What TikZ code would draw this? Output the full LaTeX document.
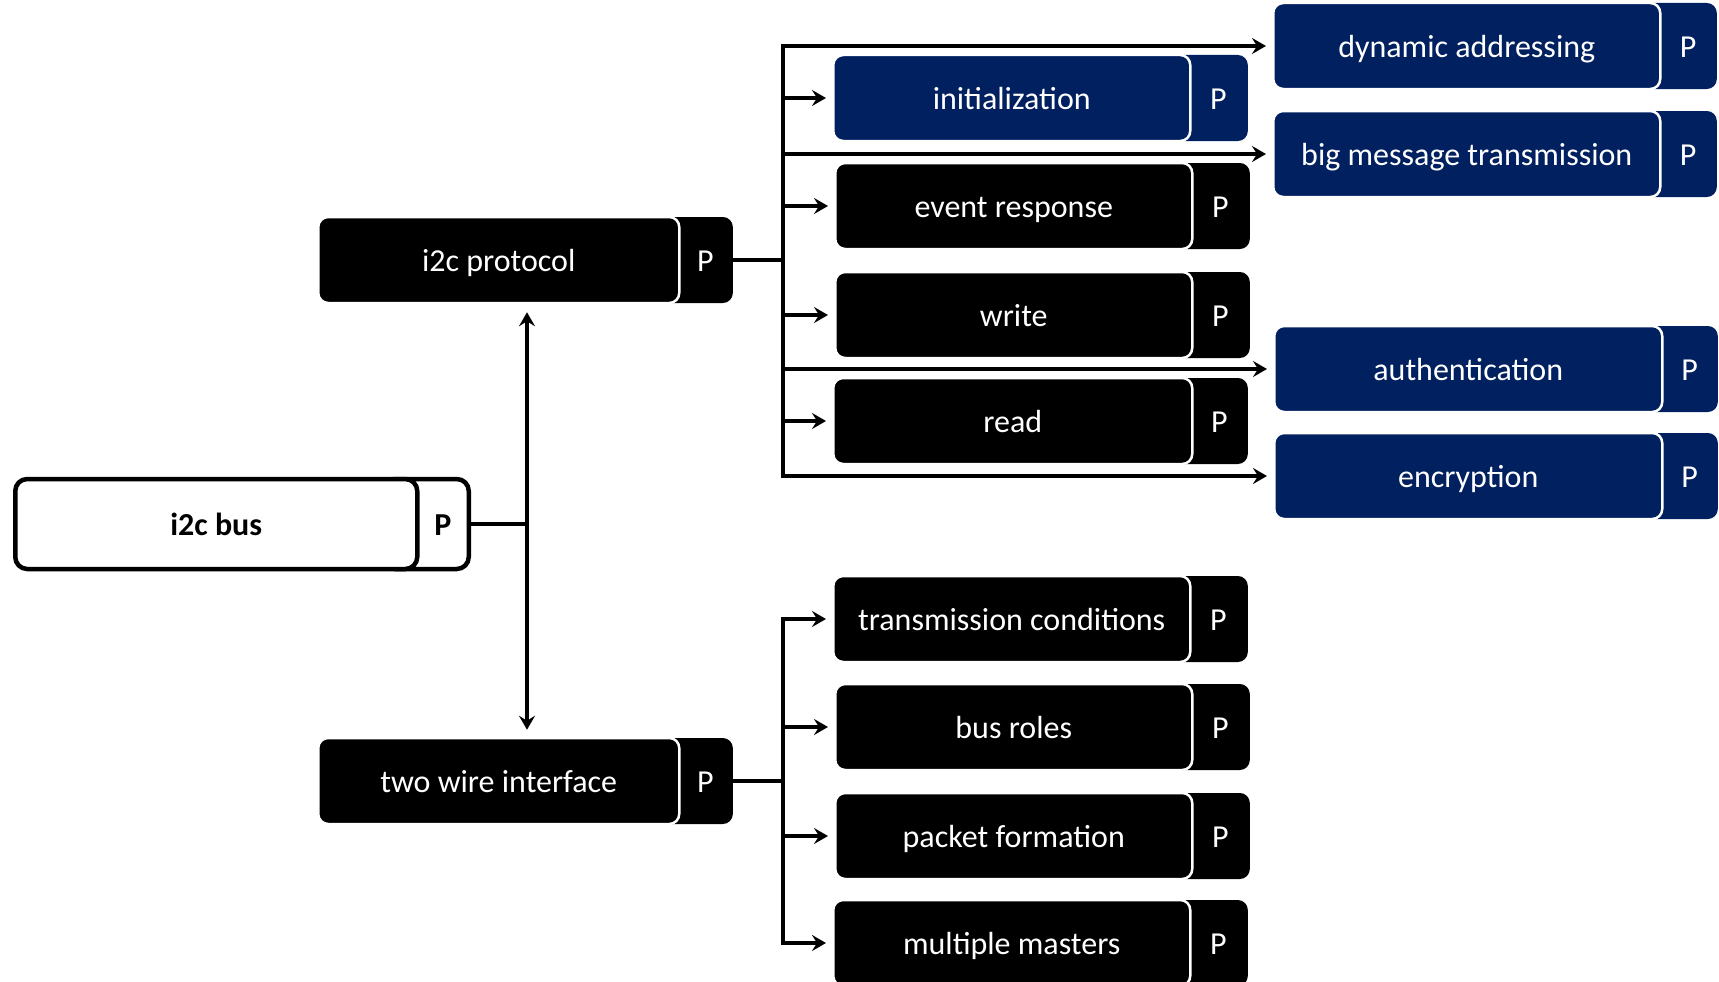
\documentclass[tikz,border=0pt]{standalone}
\usepackage{fontspec}
\setmainfont{Carlito}
\usetikzlibrary{arrows.meta}
\definecolor{navy}{RGB}{0,32,96}
\tikzset{
  lbl/.style={font=\fontsize{32}{36}\selectfont, text height=25pt, text depth=1.6pt},
  blackbg/.style={rectangle, rounded corners=10pt, fill=black, draw=none, inner sep=0pt},
  blackmain/.style={rectangle, rounded corners=10pt, fill=black, draw=white, line width=2.5pt, text=white, lbl, inner sep=0pt},
  blackptext/.style={text=white, lbl, inner sep=0pt},
  bluebg/.style={rectangle, rounded corners=10pt, fill=navy, draw=none, inner sep=0pt},
  bluemain/.style={rectangle, rounded corners=10pt, fill=navy, draw=white, line width=2.5pt, text=white, lbl, inner sep=0pt},
  blueptext/.style={text=white, lbl, inner sep=0pt},
  whitebg/.style={rectangle, rounded corners=12pt, fill=white, draw=black, line width=4.5pt, inner sep=0pt},
  whitemain/.style={rectangle, rounded corners=12pt, fill=white, draw=black, line width=4.5pt, text=black, lbl, font=\bfseries\fontsize{32}{36}\selectfont, inner sep=0pt},
  whiteptext/.style={text=black, lbl, font=\bfseries\fontsize{32}{36}\selectfont, inner sep=0pt},
  tip/.tip={Stealth[length=14pt,width=16pt,inset=5pt]},
  conn/.style={line width=3.8pt},
  arr/.style={line width=3.8pt, -tip, shorten >=6pt},
}
% name, y, left, mainright, pright, style, height, text
\newcommand\pbox[8]{%
  \node[#6bg, minimum width={#5-#4+30}, minimum height=#7, anchor=east] (#1bg) at (#5,#2) {};
  \node[#6main, minimum width={#4-#3}, minimum height=#7, anchor=west] (#1) at (#3,#2) {#8};
  \node[#6ptext] (#1p) at ({(#4+#5)/2},#2) {P};
}
\begin{document}
\begin{tikzpicture}[x=1pt,y=-1pt]
\useasboundingbox[fill=white] (0,0) rectangle (1719,982);

\pbox{bus}{524}{13}{415}{471}{white}{90}{i2c bus}
\pbox{proto}{260}{317}{678}{733}{black}{86}{i2c protocol}
\pbox{twi}{781}{317}{678}{733}{black}{86}{two wire interface}

\pbox{init}{98}{832}{1189}{1248}{blue}{86}{initialization}
\pbox{evt}{206}{834}{1191}{1250}{black}{86}{event response}
\pbox{wr}{315}{834}{1191}{1250}{black}{86}{write}
\pbox{rd}{421}{832}{1191}{1248}{black}{86}{read}

\pbox{tc}{619}{832}{1189}{1248}{black}{86}{transmission conditions}
\pbox{br}{727}{834}{1191}{1250}{black}{86}{bus roles}
\pbox{pf}{836}{834}{1191}{1250}{black}{86}{packet formation}
\pbox{mm}{943}{832}{1189}{1248}{black}{86}{multiple masters}

\pbox{dyn}{46}{1272}{1659}{1717}{blue}{86}{dynamic addressing}
\pbox{big}{154}{1272}{1659}{1717}{blue}{86}{big message transmission}
\pbox{auth}{369}{1273}{1661}{1718}{blue}{86}{authentication}
\pbox{enc}{476}{1273}{1661}{1718}{blue}{86}{encryption}

% bus to children
\coordinate (j0) at (527,524);
\draw[conn] (busbg.east) -- (j0);
\draw[line width=3.8pt, tip-tip, shorten <=8pt, shorten >=7pt] (proto.south -| j0) -- (twi.north -| j0);

% protocol tree
\coordinate (j1) at (783,260);
\draw[conn] (protobg.east) -- (j1);
\foreach \t in {dyn,init,big,evt,wr,auth,rd,enc}
  \draw[arr] (j1) |- (\t.west);

% two wire tree
\coordinate (j2) at (783,781);
\draw[conn] (twibg.east) -- (j2);
\foreach \t in {tc,br,pf,mm}
  \draw[arr] (j2) |- (\t.west);
\end{tikzpicture}
\end{document}
